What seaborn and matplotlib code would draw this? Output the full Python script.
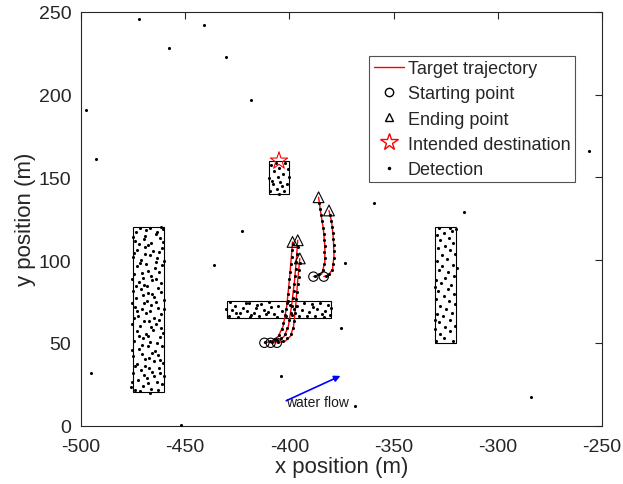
"""
Target tracking scene: trajectories, clutter regions and detections
"""

import matplotlib
matplotlib.use('Agg')
import matplotlib.pyplot as plt
from matplotlib.patches import Rectangle
from matplotlib.lines import Line2D
import seaborn as sns
import numpy as np
import pandas as pd

# clutter regions: (x0, y0, width, height)
clutter_regions = [(-475, 20, 15, 100), (-330, 50, 10, 70), (-430, 65, 50, 10), (-410, 140, 10, 20)]

# target trajectories (x, y)
traj_a_x = [-412, -408, -405.3, -403, -401.3, -400, -399, -398.5]
traj_a_y = [50, 51, 54, 60, 72, 88, 103, 111]
traj_b_x = [-409, -405, -402.5, -400.5, -399, -397.5, -396.5, -396]
traj_b_y = [50, 51, 54, 60, 72, 88, 103, 112]
traj_c_x = [-406, -402, -399.5, -398, -397, -396, -395]
traj_c_y = [50, 51, 54, 60, 72, 88, 101]
traj_d_x = [-388.5, -384.5, -383, -383, -383.7, -385, -386]
traj_d_y = [90, 91.6, 98.7, 108.7, 118.8, 129, 138]
traj_e_x = [-383.5, -381.3, -379.3, -378.6, -378.9, -379.7, -381]
traj_e_y = [90, 91, 94.5, 102.7, 112.8, 122.8, 130]

destination = (-405, 160)
flow_start = (-401.5, 15)
flow_end = (-375.5, 30)

# detections inside the clutter regions
left_det = [(-474.2,21.5),(-470.1,23.8),(-466.3,22.1),(-461.0,24.9),(-476.0,23.0),
    (-472.8,27.3),(-468.5,28.9),(-463.7,26.4),(-460.4,29.7),(-474.9,31.8),(-471.2,33.4),
    (-466.0,32.2),(-462.5,34.9),(-473.3,37.1),(-469.4,36.0),(-465.1,38.7),(-460.8,37.5),
    (-475.1,41.9),(-470.7,43.3),(-467.2,40.6),(-463.0,42.8),(-472.1,46.5),(-468.0,47.9),
    (-464.4,45.2),(-461.3,48.1),(-474.5,51.2),(-470.3,52.8),(-466.8,50.4),(-462.2,53.6),
    (-473.0,56.9),(-468.9,55.3),(-465.5,57.7),(-460.6,56.2),(-475.3,61.4),(-471.6,60.2),
    (-467.4,62.9),(-463.8,61.1),(-472.6,66.3),(-469.0,67.8),(-464.9,65.0),(-461.5,67.2),
    (-474.0,71.5),(-470.5,70.3),(-466.2,72.7),(-462.9,71.0),(-473.7,76.8),(-468.3,75.4),
    (-465.0,77.9),(-460.3,76.1),(-475.0,81.2),(-471.0,82.6),(-467.7,80.4),(-463.2,83.0),
    (-472.4,86.7),(-469.6,85.2),(-465.8,87.9),(-461.8,86.0),(-474.6,91.3),(-470.9,92.5),
    (-466.5,90.6),(-462.4,93.1),(-473.1,96.2),(-468.7,97.8),(-464.6,95.5),(-460.9,97.0),
    (-475.2,101.6),(-471.4,100.3),(-467.0,102.8),(-463.5,101.1),(-472.9,106.4),(-469.2,107.9),
    (-465.3,105.3),(-461.2,107.2),(-474.3,111.5),(-470.0,112.8),(-466.6,110.4),(-462.1,113.3),
    (-473.5,116.7),(-468.6,117.9),(-464.2,115.8),(-460.5,118.6),(-471.8,119.5),(-466.9,119.2),
    (-461.6,119.8),(-471.5,20.8),(-467.9,25.6),(-463.1,21.2),(-475.6,26.0),(-469.8,30.4),
    (-464.8,29.9),(-461.9,31.6),(-467.6,34.5),(-474.1,35.7),(-462.2,39.6),(-469.1,40.2),
    (-465.7,44.1),(-475.4,45.8),(-470.9,48.7),(-463.3,50.1),(-467.9,53.9),(-472.0,54.4),
    (-461.7,58.9),(-466.4,59.6),(-469.9,63.4),(-474.8,64.9),(-462.6,63.7),(-467.1,69.2),
    (-472.9,69.4),(-460.2,70.6),(-469.7,73.9),(-464.1,74.5),(-475.5,74.0),(-470.4,78.9),
    (-466.1,79.3),(-461.4,80.8),(-473.6,84.1),(-468.2,84.3),(-463.9,88.8),(-470.2,89.4),
    (-475.7,88.5),(-467.9,93.6),(-464.0,98.9),(-471.9,98.3),(-460.1,99.6),(-469.5,103.9),
    (-474.7,104.4),(-462.7,104.6),(-467.8,109.1),(-472.2,109.6),(-460.7,110.9),(-469.3,114.6),
    (-475.1,114.1),(-463.4,117.1),(-467.0,19.5)]
right_det = [(-329.5,51.2),(-325.8,52.6),(-321.4,50.8),(-327.6,55.3),(-323.1,56.9),(-329.9,58.4),
    (-325.2,59.8),(-320.6,60.3),(-328.1,62.7),(-322.9,63.9),(-326.4,66.1),(-329.2,67.5),
    (-321.8,68.2),(-324.7,70.6),(-327.9,72.4),(-320.3,73.5),(-323.6,75.2),(-329.6,76.3),
    (-326.0,78.1),(-321.2,79.6),(-328.5,81.2),(-324.1,82.7),(-322.5,85.0),(-327.2,86.3),
    (-329.8,88.1),(-325.5,89.4),(-320.9,90.6),(-323.8,92.8),(-328.3,94.1),(-326.7,96.5),
    (-321.6,97.2),(-329.1,99.3),(-324.4,100.6),(-327.0,103.0),(-320.4,103.8),(-322.7,105.9),
    (-328.8,107.2),(-325.1,108.6),(-321.3,110.4),(-327.5,112.1),(-323.3,113.5),(-329.4,115.0),
    (-325.9,116.4),(-321.9,117.8),(-328.0,119.3),(-323.0,119.6),(-320.2,118.9),(-330.3,84.0),
    (-330.2,64.0),(-319.8,95.0)]
bar_det = [(-429.1,66.2),(-426.3,72.4),(-423.8,68.1),(-421.0,74.0),(-418.4,66.9),(-416.2,70.8),
    (-413.5,73.3),(-411.1,67.5),(-408.7,71.9),(-406.0,65.8),(-403.4,69.4),(-401.2,74.2),
    (-398.9,67.0),(-396.5,72.1),(-394.0,69.8),(-391.6,66.4),(-389.3,73.6),(-386.8,70.2),
    (-384.2,67.7),(-381.5,72.9),(-427.7,69.6),(-424.9,65.4),(-422.3,71.2),(-419.6,73.8),
    (-417.1,68.3),(-414.8,66.0),(-412.4,70.1),(-409.9,74.6),(-405.3,72.5),(-402.2,66.6),
    (-397.7,70.5),(-393.1,73.9),(-390.4,68.6),(-387.9,66.3),(-385.5,74.3),(-382.8,69.1),
    (-380.4,66.8),(-428.5,74.5),(-425.6,67.9),(-420.3,69.0),(-415.5,72.7),(-410.2,68.9),
    (-407.4,67.2),(-399.6,73.0),(-395.2,66.2),(-388.6,71.5),(-383.6,65.6),(-430.3,70.5),
    (-379.9,71.0),(-418.9,65.3)]
top_det = [(-409.2,141.5),(-406.1,143.2),(-402.4,142.0),(-408.0,145.9),(-404.3,147.4),(-401.1,146.1),
    (-409.6,149.8),(-405.7,150.5),(-402.9,152.3),(-407.5,153.6),(-400.6,154.9),(-404.8,155.7),
    (-409.0,157.3),(-402.0,158.6),(-406.6,158.9),(-400.4,150.0),(-408.4,148.0),(-403.6,144.6),
    (-405.2,139.8)]

# detections produced by the targets
target_det = [(-411.5,50.6),(-409.4,51.2),(-407.0,52.4),(-405.0,54.9),(-403.6,58.1),(-402.9,61.8),
    (-401.8,66.0),(-401.6,70.3),(-400.9,75.1),(-400.7,79.5),(-400.3,84.0),(-400.2,88.7),
    (-399.5,93.1),(-399.4,97.6),(-398.8,102.0),(-398.9,106.4),(-398.3,109.9),
    (-408.2,50.3),(-406.1,51.5),(-403.9,52.8),(-402.1,55.6),(-401.0,59.2),(-400.1,63.7),
    (-399.4,67.9),(-398.8,72.4),(-398.5,76.8),(-398.0,81.2),(-397.7,85.6),(-397.2,90.3),
    (-396.9,94.7),(-396.6,99.0),(-396.4,103.6),(-396.0,108.2),
    (-405.3,50.4),(-403.2,51.3),(-401.0,53.0),(-399.3,55.6),(-398.4,59.0),(-397.6,63.3),
    (-397.2,67.8),(-396.9,72.0),(-396.7,76.5),(-396.2,80.9),(-396.0,85.4),(-395.6,89.8),
    (-395.3,94.2),(-395.1,98.3),
    (-387.5,90.5),(-385.6,91.4),(-384.0,94.2),(-383.4,97.5),(-382.8,101.2),(-383.2,104.9),
    (-382.7,108.6),(-383.3,112.3),(-383.5,116.0),(-384.0,119.7),(-384.3,123.4),(-384.9,127.1),
    (-385.2,130.8),(-385.7,134.5),
    (-382.6,90.4),(-380.8,91.7),(-379.6,94.3),(-378.9,97.8),(-378.4,101.5),(-378.7,105.2),
    (-378.5,108.9),(-379.0,112.6),(-379.1,116.3),(-379.6,120.0),(-380.0,123.7),(-380.6,127.0)]

# isolated false alarms
false_alarms = [(-472,246),(-458,228),(-441,242),(-430.5,223),(-418.4,197),(-497.6,190.7),
    (-492.8,161),(-495.2,31.7),(-422.8,117.7),(-436.3,97),(-403.8,29.8),(-373.2,98.5),
    (-375.2,59),(-359.6,134.3),(-316.4,128.8),(-256,166),(-284.1,17),(-368.3,11.5),(-452,0.5)]

sns.set_style('white')
plt.rcParams['font.family'] = ['Liberation Sans', 'DejaVu Sans']
plt.rcParams['axes.unicode_minus'] = False

fig = plt.figure(figsize=(6.23, 4.85), dpi=100)
ax = fig.add_axes([81 / 623, 58.5 / 485, 521 / 623, 413.5 / 485])

# clutter region boxes
for x0, y0, w, h in clutter_regions:
    ax.add_patch(Rectangle((x0, y0), w, h, fill=False, edgecolor='black', linewidth=0.8, zorder=1))

# detections
det = pd.DataFrame(left_det + right_det + bar_det + top_det + target_det + false_alarms,
                   columns=['x', 'y'])
sns.scatterplot(data=det, x='x', y='y', ax=ax, color='black', s=5, linewidth=0, zorder=3)

# trajectories
trajs = [(traj_a_x, traj_a_y), (traj_b_x, traj_b_y), (traj_c_x, traj_c_y),
         (traj_d_x, traj_d_y), (traj_e_x, traj_e_y)]
rows = []
for i, (tx, ty) in enumerate(trajs):
    for xv, yv in zip(tx, ty):
        rows.append({'traj': i, 'x': xv, 'y': yv})
tr = pd.DataFrame(rows)
sns.lineplot(data=tr, x='x', y='y', units='traj', estimator=None, sort=False,
             color='red', linewidth=1.0, ax=ax, zorder=2)

starts = tr.groupby('traj').first()
ends = tr.groupby('traj').last()
sns.scatterplot(x=starts['x'], y=starts['y'], ax=ax, marker='o', s=45, color='black',
                facecolor='none', edgecolor='black', linewidth=0.8, zorder=4)
sns.scatterplot(x=ends['x'], y=ends['y'], ax=ax, marker='^', s=60, color='black',
                facecolor='none', edgecolor='black', linewidth=0.8, zorder=4)
sns.scatterplot(x=[destination[0]], y=[destination[1]], ax=ax, marker='*', s=170, color='red',
                facecolor='none', edgecolor='red', linewidth=0.8, zorder=4)

# water flow arrow
ax.annotate('', xy=flow_end, xytext=flow_start,
            arrowprops=dict(arrowstyle='-|>', color='blue', lw=1.2, mutation_scale=9,
                            shrinkA=0, shrinkB=0))
ax.text(flow_start[0], flow_start[1] - 1, 'water flow', fontsize=10, ha='left', va='center',
        color='#1a1a1a')

ax.set_xlim(-500, -250)
ax.set_ylim(0, 250)
ax.set_xticks(np.arange(-500, -249, 50))
ax.set_yticks(np.arange(0, 251, 50))
ax.tick_params(direction='in', length=5, width=0.8, top=True, right=True,
               labelsize=14, colors='#262626')
ax.tick_params(axis='x', pad=9)
ax.tick_params(axis='y', pad=7)
for sp in ax.spines.values():
    sp.set_color('#262626')
    sp.set_linewidth(0.8)
ax.set_xlabel('x position (m)', fontsize=16, color='#262626', labelpad=1)
ax.set_ylabel('y position (m)', fontsize=16, color='#262626', labelpad=2)

handles = [
    Line2D([], [], color='red', linewidth=1.0),
    Line2D([], [], marker='o', linestyle='none', markerfacecolor='none', markeredgecolor='black', markersize=6),
    Line2D([], [], marker='^', linestyle='none', markerfacecolor='none', markeredgecolor='black', markersize=6),
    Line2D([], [], marker='*', linestyle='none', markerfacecolor='none', markeredgecolor='red', markersize=13),
    Line2D([], [], marker='.', linestyle='none', color='black', markersize=3),
]
labels = ['Target trajectory', 'Starting point', 'Ending point', 'Intended destination', 'Detection']
leg = ax.legend(handles, labels, loc='upper left', bbox_to_anchor=(0.553, 0.894), fontsize=13,
                frameon=True, fancybox=False, edgecolor='#262626', handlelength=1.7,
                handletextpad=0.2, labelspacing=0.45, borderpad=0.25, borderaxespad=0)
leg.get_frame().set_linewidth(0.8)
for t in leg.get_texts():
    t.set_color('#262626')

fig.savefig('out.png', dpi=100)
